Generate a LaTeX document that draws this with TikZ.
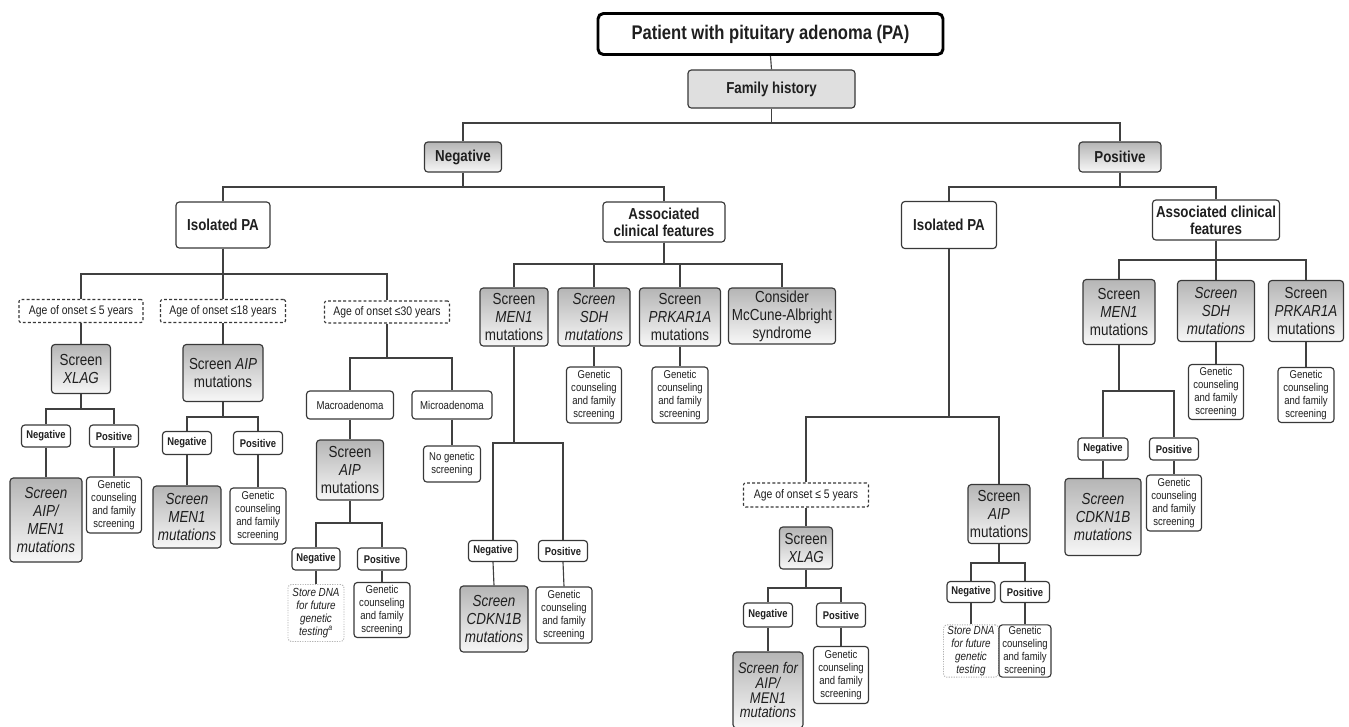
\documentclass[tikz,border=0pt]{standalone}
\usepackage{fontspec}
\setmainfont[FakeStretch=0.84]{Liberation Sans}
\usetikzlibrary{calc}
\tikzset{
  sz/.style 2 args={minimum width=#1*0.75pt, minimum height=#2*0.75pt},
  base/.style={draw=black!78, line width=0.85pt, rounded corners=2.5pt, align=center, inner sep=1pt, text=black!88, fill=white},
  grad/.style={base, top color=gray!58, bottom color=gray!6},
  dash box/.style={base, rounded corners=1.5pt, dash pattern=on 2.2pt off 1.6pt},
  store/.style={base, draw=gray!60, densely dotted, line width=0.7pt},
  bigF/.style={font=\fontsize{11.9}{13}\selectfont\bfseries},
  scrF/.style={font=\fontsize{12}{13.5}\selectfont},
  scrI/.style={font=\fontsize{12}{13.5}\selectfont\itshape},
  tightI/.style={font=\fontsize{11.6}{11.2}\selectfont\itshape},
  smF/.style={font=\fontsize{8.5}{9.75}\selectfont},
  smI/.style={font=\fontsize{8.8}{9.75}\selectfont\itshape},
  lblF/.style={font=\fontsize{8.4}{9.5}\selectfont\bfseries},
  ageF/.style={font=\fontsize{9.3}{11}\selectfont},
  midF/.style={font=\fontsize{8.6}{10}\selectfont},
  conn/.style={draw=black!75, line width=0.85pt},
}
\newcommand\brn[3]{\foreach \c in {#3}{\draw[conn] (#1.south) -- (#1.south |- 0,#2) -| (\c.north);}}
\newcommand\lnk[2]{\draw[conn] (#1.south) -- (#2.north);}
\begin{document}
\begin{tikzpicture}[x=0.75pt,y=-0.75pt]
\useasboundingbox[fill=white] (0,0) rectangle (1349,726);

% top levels
\node[draw=black, line width=2.2pt, rounded corners=4pt, fill=white, sz={345}{41}, font=\fontsize{14.8}{16}\selectfont\bfseries, text=black!88] (top) at (770.5,34) {Patient with pituitary adenoma (PA)};
\node[base, fill=gray!25, sz={167}{38}, bigF] (fam) at (771.5,89) {Family history};
\node[grad, sz={77}{30}, bigF] (neg) at (463,157) {Negative};
\node[grad, sz={82}{30}, bigF] (pos) at (1120,157) {Positive};
\node[base, sz={94}{46}, bigF] (isoN) at (223,225) {Isolated PA};
\node[base, sz={122}{40}, bigF] (assocN) at (664,222) {Associated\\clinical features};
\node[base, sz={95}{47}, bigF] (isoP) at (949,225) {Isolated PA};
\node[base, sz={127}{40}, bigF] (assocP) at (1216,220) {Associated clinical\\features};

% negative / isolated PA
\node[dash box, sz={124}{23}, ageF] (age5N) at (81,311) {Age of onset ≤ 5 years};
\node[dash box, sz={125}{23}, ageF] (age18) at (223,311) {Age of onset ≤18 years};
\node[dash box, sz={125}{22}, ageF] (age30) at (387,312) {Age of onset ≤30 years};
\node[grad, sz={59}{49}, scrF] (xlagN) at (81,369) {Screen\\\textit{XLAG}};
\node[grad, sz={80}{57}, scrF] (aip18) at (223,373) {Screen \textit{AIP}\\mutations};
\node[base, sz={49}{22}, lblF] (negA) at (46,436) {Negative};
\node[base, sz={49}{22}, lblF] (posA) at (114,436) {Positive};
\node[grad, sz={72}{84}, scrI] (aipmenN) at (46,520) {Screen\\AIP/\\MEN1\\mutations};
\node[base, sz={55}{56}, smF] (gcA) at (114,505) {Genetic\\counseling\\and family\\screening};
\node[base, sz={49}{23}, lblF] (negB) at (187,443) {Negative};
\node[base, sz={49}{23}, lblF] (posB) at (258,443) {Positive};
\node[grad, sz={68}{62}, scrI] (men1B) at (187,517) {Screen\\MEN1\\mutations};
\node[base, sz={56}{56}, smF] (gcB) at (258,516) {Genetic\\counseling\\and family\\screening};
\node[base, sz={87}{28}, midF] (macro) at (350,405) {Macroadenoma};
\node[base, sz={80}{28}, midF] (micro) at (452,405) {Microadenoma};
\node[grad, sz={67}{60}, scrF] (aipC) at (350,470) {Screen\\\textit{AIP}\\mutations};
\node[base, sz={57}{36}, smF] (nogen) at (452,464) {No genetic\\screening};
\node[base, sz={48}{22}, lblF] (negC) at (316,559) {Negative};
\node[base, sz={49}{22}, lblF] (posC) at (382,559) {Positive};
\node[store, sz={56}{57}, smI] (storeN) at (316,613) {Store DNA\\for future\\genetic\\testing\textsuperscript{a}};
\node[base, sz={56}{55}, smF] (gcC) at (382,610) {Genetic\\counseling\\and family\\screening};

% negative / associated
\node[grad, sz={68}{58}, scrF] (men1D) at (514,317) {Screen\\\textit{MEN1}\\mutations};
\node[grad, sz={72}{58}, scrI] (sdhD) at (594,317) {Screen\\SDH\\mutations};
\node[grad, sz={81}{58}, scrF] (prkD) at (680,317) {Screen\\\textit{PRKAR1A}\\mutations};
\node[grad, sz={107}{56}, scrF] (mcc) at (782,316) {Consider\\McCune-Albright\\syndrome};
\node[base, sz={55}{56}, smF] (gcSDHD) at (594,395) {Genetic\\counseling\\and family\\screening};
\node[base, sz={56}{56}, smF] (gcPRKD) at (680,395) {Genetic\\counseling\\and family\\screening};
\node[base, sz={49}{21}, lblF] (negD) at (493,551) {Negative};
\node[base, sz={49}{21}, lblF] (posD) at (563,551) {Positive};
\node[grad, sz={68}{66}, scrI] (cdkD) at (494,619) {Screen\\CDKN1B\\mutations};
\node[base, sz={56}{56}, smF] (gcD) at (564,615) {Genetic\\counseling\\and family\\screening};

% positive / isolated
\node[dash box, sz={125}{24}, ageF] (age5P) at (806,495) {Age of onset ≤ 5 years};
\node[grad, sz={53}{42}, scrF] (xlagP) at (806,548) {Screen\\\textit{XLAG}};
\node[base, sz={49}{24}, lblF] (negE) at (768,615) {Negative};
\node[base, sz={49}{24}, lblF] (posE) at (841,615) {Positive};
\node[grad, sz={70}{76}, tightI] (aipmenP) at (768,690) {Screen for\\AIP/\\MEN1\\mutations};
\node[base, sz={55}{57}, smF] (gcE) at (841,675) {Genetic\\counseling\\and family\\screening};
\node[grad, sz={62}{59}, scrF] (aipP) at (999,514) {Screen\\\textit{AIP}\\mutations};
\node[base, sz={48}{21}, lblF] (negF) at (971,592) {Negative};
\node[base, sz={49}{21}, lblF] (posF) at (1025,592) {Positive};
\node[store, sz={55}{52}, smI] (storeP) at (971,651) {Store DNA\\for future\\genetic\\testing};
\node[base, sz={52}{52}, smF] (gcF) at (1025,651) {Genetic\\counseling\\and family\\screening};

% positive / associated
\node[grad, sz={72}{65}, scrF] (men1G) at (1119,312) {Screen\\\textit{MEN1}\\mutations};
\node[grad, sz={77}{61}, scrI] (sdhG) at (1216,311) {Screen\\SDH\\mutations};
\node[grad, sz={75}{61}, scrF] (prkG) at (1306,311) {Screen\\\textit{PRKAR1A}\\mutations};
\node[base, sz={55}{55}, smF] (gcSDHG) at (1216,392) {Genetic\\counseling\\and family\\screening};
\node[base, sz={56}{55}, smF] (gcPRKG) at (1306,395) {Genetic\\counseling\\and family\\screening};
\node[base, sz={50}{22}, lblF] (negH) at (1103,449) {Negative};
\node[base, sz={49}{22}, lblF] (posH) at (1174,449) {Positive};
\node[grad, sz={76}{77}, scrI] (cdkH) at (1103,517) {Screen\\CDKN1B\\mutations};
\node[base, sz={55}{56}, smF] (gcH) at (1174,503) {Genetic\\counseling\\and family\\screening};

% connectors
\lnk{top}{fam}
\brn{fam}{123}{neg,pos}
\brn{neg}{187}{isoN,assocN}
\brn{pos}{187}{isoP,assocP}
\brn{isoN}{274}{age5N,age18,age30}
\lnk{age5N}{xlagN}
\lnk{age18}{aip18}
\brn{xlagN}{409}{negA,posA}
\lnk{negA}{aipmenN}
\lnk{posA}{gcA}
\brn{aip18}{417}{negB,posB}
\lnk{negB}{men1B}
\lnk{posB}{gcB}
\brn{age30}{358}{macro,micro}
\lnk{macro}{aipC}
\lnk{micro}{nogen}
\brn{aipC}{523}{negC,posC}
\lnk{negC}{storeN}
\lnk{posC}{gcC}
\brn{assocN}{264}{men1D,sdhD,prkD,mcc}
\lnk{sdhD}{gcSDHD}
\lnk{prkD}{gcPRKD}
\brn{men1D}{443}{negD,posD}
\lnk{negD}{cdkD}
\lnk{posD}{gcD}
\brn{isoP}{417}{age5P,aipP}
\lnk{age5P}{xlagP}
\brn{xlagP}{588}{negE,posE}
\lnk{negE}{aipmenP}
\lnk{posE}{gcE}
\brn{aipP}{563}{negF,posF}
\lnk{negF}{storeP}
\lnk{posF}{gcF}
\brn{assocP}{260}{men1G,sdhG,prkG}
\lnk{sdhG}{gcSDHG}
\lnk{prkG}{gcPRKG}
\brn{men1G}{391}{negH,posH}
\lnk{negH}{cdkH}
\lnk{posH}{gcH}
\end{tikzpicture}
\end{document}
